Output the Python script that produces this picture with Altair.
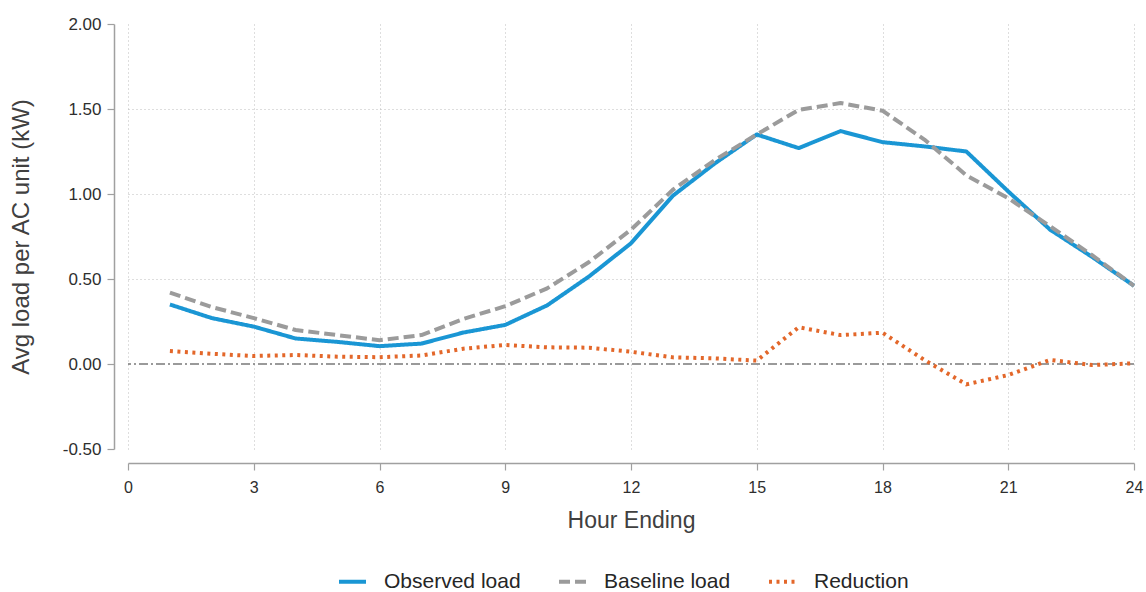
import altair as alt
import pandas as pd

# Hour-ending index and average load per AC unit (kW)
hours = list(range(1, 25))
observed = [0.35, 0.27, 0.22, 0.15, 0.13, 0.105, 0.12, 0.185, 0.23, 0.345, 0.515, 0.71,
            0.99, 1.18, 1.35, 1.27, 1.37, 1.305, 1.28, 1.25, 1.015, 0.79, 0.63, 0.46]
baseline = [0.42, 0.335, 0.27, 0.2, 0.17, 0.14, 0.17, 0.265, 0.34, 0.445, 0.60, 0.79,
            1.025, 1.20, 1.35, 1.495, 1.535, 1.49, 1.32, 1.11, 0.975, 0.81, 0.64, 0.46]
reduction = [0.076, 0.06, 0.047, 0.053, 0.043, 0.04, 0.05, 0.09, 0.112, 0.098, 0.096, 0.072,
             0.039, 0.033, 0.02, 0.216, 0.17, 0.184, 0.024, -0.12, -0.065, 0.024, -0.006, 0.004]

series_names = ["Observed load", "Baseline load", "Reduction"]
series_colors = ["#1a96d4", "#9b9b9b", "#e3672a"]
series_dashes = [[1, 0], [11, 5], [3, 4.5]]

x_ticks = [0, 3, 6, 9, 12, 15, 18, 21, 24]
y_ticks = [-0.5, 0.0, 0.5, 1.0, 1.5, 2.0]
reference_level = [0.0]

rows = []
for name, vals in zip(series_names, [observed, baseline, reduction]):
    for h, v in zip(hours, vals):
        rows.append({"hour": h, "load": v, "series": name})
df = pd.DataFrame(rows)

FONT = "Liberation Sans"

x_enc = alt.X(
    "hour:Q",
    scale=alt.Scale(domain=[0, 24], nice=False, zero=False),
    axis=alt.Axis(
        values=x_ticks,
        title="Hour Ending",
        offset=14,
        labelFlush=False,
        labelFontSize=16,
        titleFontSize=23,
        labelPadding=9,
        titlePadding=14,
        gridDash=[1, 3],
        gridColor="#bdbdbd",
    ),
)

y_enc = alt.Y(
    "load:Q",
    scale=alt.Scale(domain=[-0.5, 2.0], nice=False, zero=False),
    axis=alt.Axis(
        values=y_ticks,
        title="Avg load per AC unit (kW)",
        offset=14,
        labelFlush=False,
        labelExpr="replace(format(datum.value, '.2f'), '\u2212', '-')",
        labelFontSize=17,
        titleFontSize=24,
        labelPadding=6,
        titlePadding=29,
        gridDash=[1, 3],
        gridColor="#bdbdbd",
        gridOpacity={
            "condition": {
                "test": "datum.value == 0 || datum.value == -0.5 || datum.value == 2",
                "value": 0,
            },
            "value": 1,
        },
    ),
)

zero_line = (
    alt.Chart(pd.DataFrame({"level": reference_level}))
    .mark_rule(color="#7a7a7a", strokeWidth=1.3, strokeDash=[9, 3, 2, 3])
    .encode(y=alt.Y("level:Q", scale=alt.Scale(domain=[-0.5, 2.0], nice=False)))
)

lines = (
    alt.Chart(df)
    .mark_line(strokeWidth=4, strokeCap="butt", strokeJoin="round")
    .encode(
        x=x_enc,
        y=y_enc,
        color=alt.Color(
            "series:N",
            scale=alt.Scale(domain=series_names, range=series_colors),
            sort=series_names,
            title=None,
        ),
        strokeDash=alt.StrokeDash(
            "series:N",
            scale=alt.Scale(domain=series_names, range=series_dashes),
            sort=series_names,
            title=None,
        ),
    )
)

chart = (
    alt.layer(zero_line, lines)
    .properties(
        width=1006,
        height=425,
        autosize=alt.AutoSizeParams(type="none"),
        padding={"left": 128, "top": 24, "right": 12, "bottom": 143},
        background="white",
    )
    .configure_view(stroke=None)
    .configure_axis(
        labelFont=FONT,
        titleFont=FONT,
        labelColor="#2e2e2e",
        titleColor="#404040",
        titleFontWeight="normal",
        domainColor="#a0a0a0",
        domainWidth=1.5,
        tickColor="#a0a0a0",
        tickWidth=1.2,
        tickSize=7,
    )
    .configure_legend(
        orient="none",
        legendX=209,
        legendY=542,
        direction="horizontal",
        symbolType="stroke",
        symbolSize=729,
        symbolStrokeWidth=4,
        labelFont=FONT,
        labelFontSize=21,
        labelColor="#262626",
        labelOffset=16,
        columnPadding=30,
        padding=0,
    )
)

chart.save("out.html", embed_options={"renderer": "svg", "actions": False})
